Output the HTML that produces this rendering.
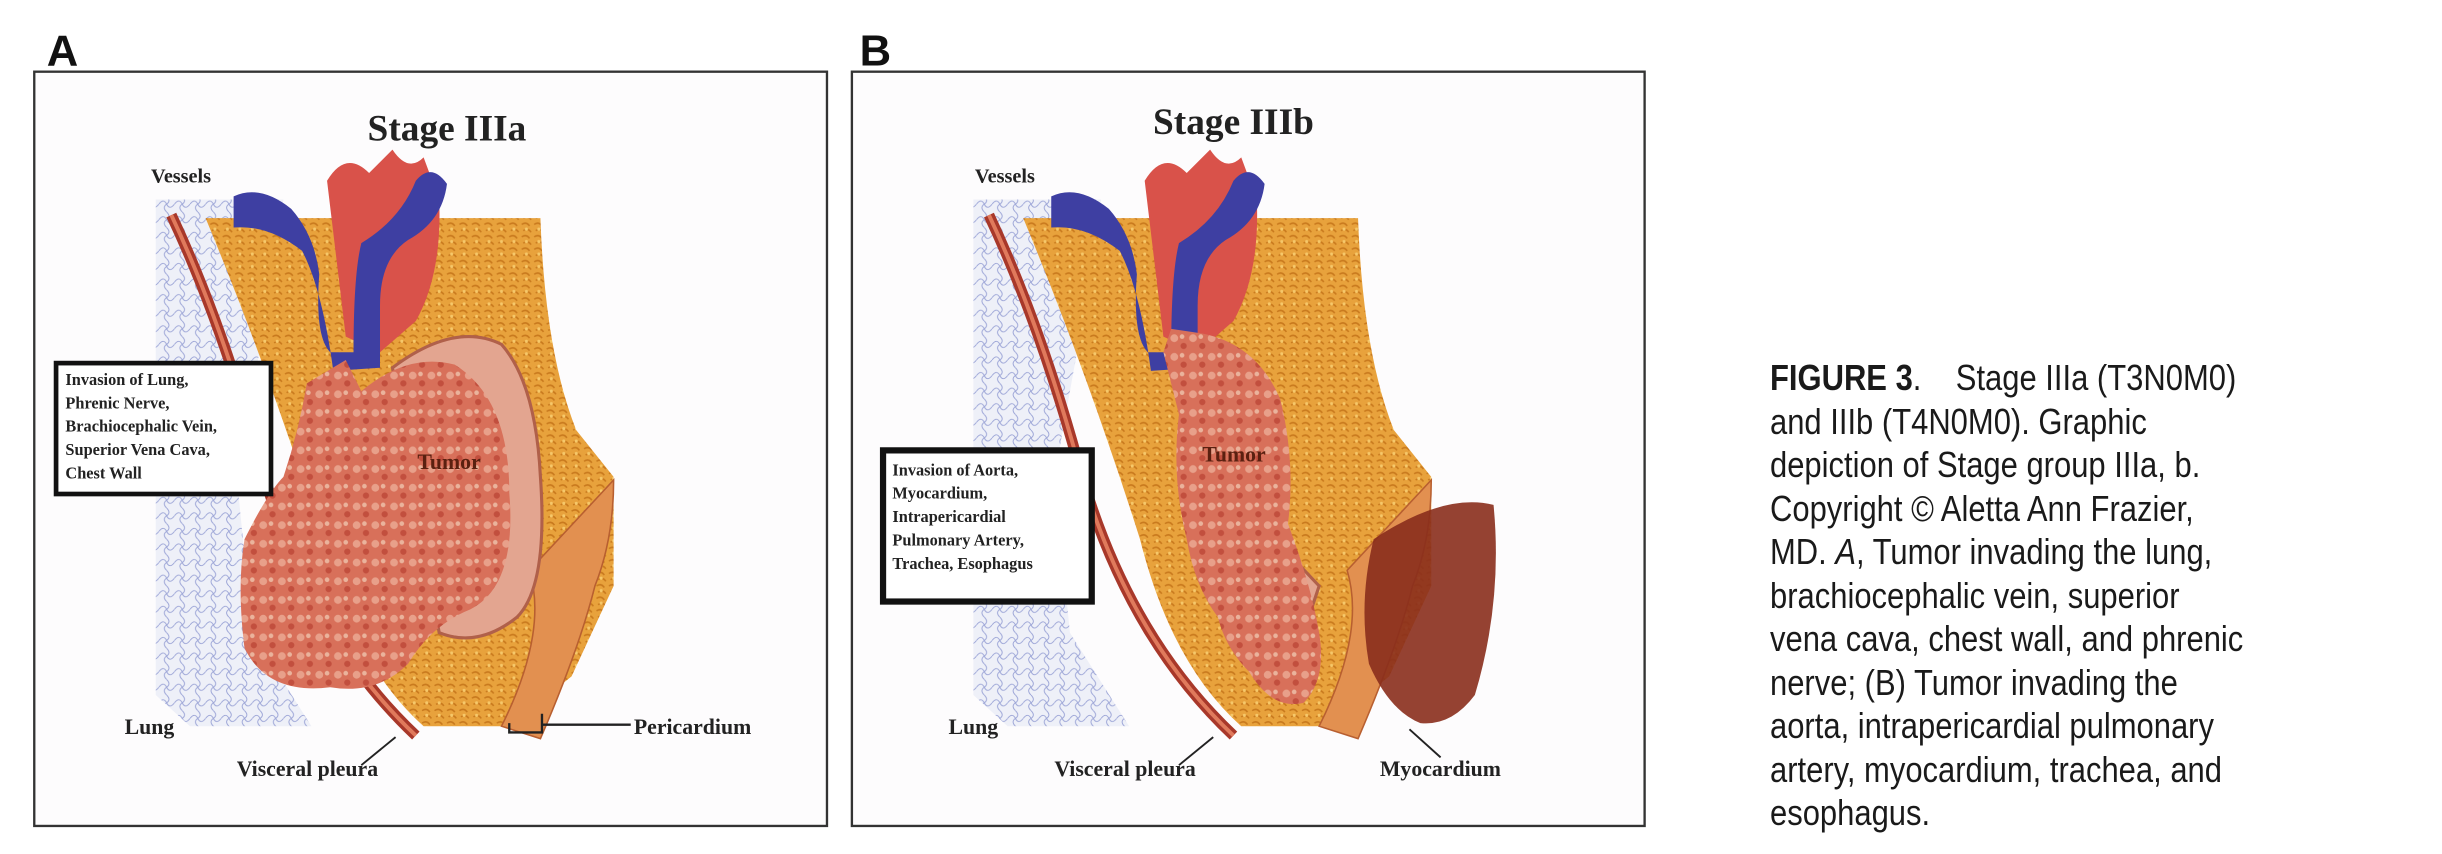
<!DOCTYPE html>
<html><head><meta charset="utf-8"><style>
html,body{margin:0;padding:0;background:#fff;width:2442px;height:854px;overflow:hidden}
svg{display:block}
.cap{position:absolute;left:1770px;top:356px;font-family:"Liberation Sans",sans-serif;font-size:36px;line-height:43.5px;color:#1a1a1a;transform:scaleX(0.86);transform-origin:0 0;white-space:nowrap}
</style></head><body>
<svg width="2442" height="854" viewBox="0 0 1568 548" preserveAspectRatio="none">
<defs>
<pattern id="lung" width="10" height="10" patternUnits="userSpaceOnUse">
<rect width="10" height="10" fill="#eef0f8"/><path d="M0 5 Q3 1 5 5 T10 5 M5 0 Q8 3 5 5 T5 10" stroke="#9aa3d6" stroke-width="0.6" fill="none"/></pattern>
<pattern id="fat" width="8" height="8" patternUnits="userSpaceOnUse">
<rect width="8" height="8" fill="#e8a23c"/><path d="M1 2 Q4 0 6 3 M2 6 Q5 4 7 7" stroke="#c97a1e" stroke-width="1" fill="none"/><circle cx="4" cy="5" r="1" fill="#f6c86a"/></pattern>
<pattern id="tum" width="12" height="12" patternUnits="userSpaceOnUse">
<rect width="12" height="12" fill="#d8705a"/><circle cx="3" cy="3" r="2.5" fill="#e8a08a"/><circle cx="9" cy="8" r="2" fill="#c24f3e"/><circle cx="8" cy="2" r="1.5" fill="#eab39c"/></pattern>
<g id="base">
<rect x="0" y="0" width="509" height="484" fill="#fdfcfd" stroke="#333" stroke-width="1.5"/>
<path d="M78 82 L160 82 L150 150 L130 260 L140 360 L178 420 L100 420 L78 400 Z" fill="url(#lung)"/>
<path d="M110 94 L325 94 Q328 180 348 230 L372 260 L372 330 L345 388 L305 420 L250 420 Q205 380 185 300 Q150 190 110 94 Z" fill="url(#fat)"/>
<path d="M88 92 Q120 160 145 250 Q175 360 245 426" stroke="#a8382a" stroke-width="7" fill="none"/>
<path d="M88 92 Q120 160 145 250 Q175 360 245 426" stroke="#e07a5c" stroke-width="2.5" fill="none"/>
<path d="M318 320 Q330 360 300 420 L325 428 Q350 370 360 330 Q372 300 372 262 Z" fill="#e29050" stroke="#b85f30" stroke-width="1"/>
<g transform="translate(0,10)">
<path d="M188 60 Q200 40 215 55 L230 40 Q240 55 250 45 L260 72 Q262 120 245 150 L222 170 L200 160 Z" fill="#d9524a"/>
<path d="M128 70 Q145 62 165 78 Q180 95 183 120 Q180 160 190 170 L205 170 Q205 120 210 100 Q235 85 245 60 Q255 48 265 62 Q262 86 240 98 Q222 110 222 140 L222 180 L192 182 Q185 130 172 105 Q150 88 128 90 Z" fill="#3e3fa2"/>
</g>
</g>
</defs>

<text x="30" y="42" font-family="Liberation Sans,sans-serif" font-weight="bold" font-size="28" fill="#111">A</text>
<text x="552" y="42" font-family="Liberation Sans,sans-serif" font-weight="bold" font-size="28" fill="#111">B</text>

<!-- Panel A -->
<g transform="translate(22,46)">
<use href="#base"/>
<path d="M230 190 Q270 160 300 175 Q322 200 325 260 Q330 330 310 350 Q285 370 260 360 Z" fill="#e3a590" stroke="#b0604a" stroke-width="2"/>
<path d="M175 200 L200 185 L210 205 Q240 180 270 188 Q305 210 305 270 Q310 330 280 345 Q255 355 240 380 Q220 400 190 395 Q150 400 135 370 Q130 330 135 300 Q150 270 160 260 Q170 230 175 200 Z" fill="url(#tum)"/>
<text x="265" y="44" text-anchor="middle" font-family="Liberation Serif,serif" font-weight="bold" font-size="24" fill="#222">Stage IIIa</text>
<text x="75" y="71" font-family="Liberation Serif,serif" font-weight="bold" font-size="13" fill="#222">Vessels</text>
<text x="246" y="255" font-family="Liberation Serif,serif" font-weight="bold" font-size="14" fill="#5a2010">Tumor</text>
<text x="58" y="425" font-family="Liberation Serif,serif" font-weight="bold" font-size="14" fill="#222">Lung</text>
<text x="130" y="452" font-family="Liberation Serif,serif" font-weight="bold" font-size="14" fill="#222">Visceral pleura</text>
<path d="M232 427 L210 445" stroke="#222" stroke-width="1.2"/>
<text x="385" y="425" font-family="Liberation Serif,serif" font-weight="bold" font-size="14" fill="#222">Pericardium</text>
<path d="M326 412 L326 424 L305 424 L305 418 M326 419 L383 419" stroke="#222" stroke-width="1.5" fill="none"/>
<rect x="14" y="187" width="138" height="84" fill="#fff" stroke="#111" stroke-width="3"/>
<g font-family="Liberation Serif,serif" font-weight="bold" font-size="10.5" fill="#222">
<text x="20" y="201">Invasion of Lung,</text><text x="20" y="216">Phrenic Nerve,</text><text x="20" y="231">Brachiocephalic Vein,</text><text x="20" y="246">Superior Vena Cava,</text><text x="20" y="261">Chest Wall</text></g>
</g>

<!-- Panel B -->
<g transform="translate(547,46)">
<use href="#base"/>
<path d="M215 240 Q218 300 240 340 Q260 365 290 360 L300 330 Z" fill="#e3a590" stroke="#b0604a" stroke-width="2"/>
<path d="M335 300 Q380 270 412 278 Q418 340 400 400 Q385 420 365 418 Q345 410 332 380 Q325 340 335 300 Z" fill="#8a2e1c" opacity="0.9"/>
<path d="M200 180 L205 165 L225 168 Q260 175 275 210 Q285 250 280 290 Q295 330 300 360 Q305 390 290 405 Q270 410 255 385 Q240 370 235 350 Q220 330 215 300 Q205 260 210 220 Z" fill="url(#tum)"/>
<text x="245" y="40" text-anchor="middle" font-family="Liberation Serif,serif" font-weight="bold" font-size="24" fill="#222">Stage IIIb</text>
<text x="79" y="71" font-family="Liberation Serif,serif" font-weight="bold" font-size="13" fill="#222">Vessels</text>
<text x="225" y="250" font-family="Liberation Serif,serif" font-weight="bold" font-size="14" fill="#5a2010">Tumor</text>
<text x="62" y="425" font-family="Liberation Serif,serif" font-weight="bold" font-size="14" fill="#222">Lung</text>
<text x="130" y="452" font-family="Liberation Serif,serif" font-weight="bold" font-size="14" fill="#222">Visceral pleura</text>
<path d="M232 427 L210 445" stroke="#222" stroke-width="1.2"/>
<text x="339" y="452" font-family="Liberation Serif,serif" font-weight="bold" font-size="14" fill="#222">Myocardium</text>
<path d="M358 422 L378 440" stroke="#222" stroke-width="1.2"/>
<rect x="20" y="243" width="134" height="97" fill="#fff" stroke="#111" stroke-width="4"/>
<g font-family="Liberation Serif,serif" font-weight="bold" font-size="10.5" fill="#222">
<text x="26" y="259">Invasion of Aorta,</text><text x="26" y="274">Myocardium,</text><text x="26" y="289">Intrapericardial</text><text x="26" y="304">Pulmonary Artery,</text><text x="26" y="319">Trachea, Esophagus</text></g>
</g>
</svg>
<div class="cap"><b>FIGURE 3</b>.&nbsp;&nbsp;&nbsp; Stage IIIa (T3N0M0)<br>and IIIb (T4N0M0). Graphic<br>depiction of Stage group IIIa, b.<br>Copyright © Aletta Ann Frazier,<br>MD. <i>A</i>, Tumor invading the lung,<br>brachiocephalic vein, superior<br>vena cava, chest wall, and phrenic<br>nerve; (B) Tumor invading the<br>aorta, intrapericardial pulmonary<br>artery, myocardium, trachea, and<br>esophagus.</div>
</body></html>
